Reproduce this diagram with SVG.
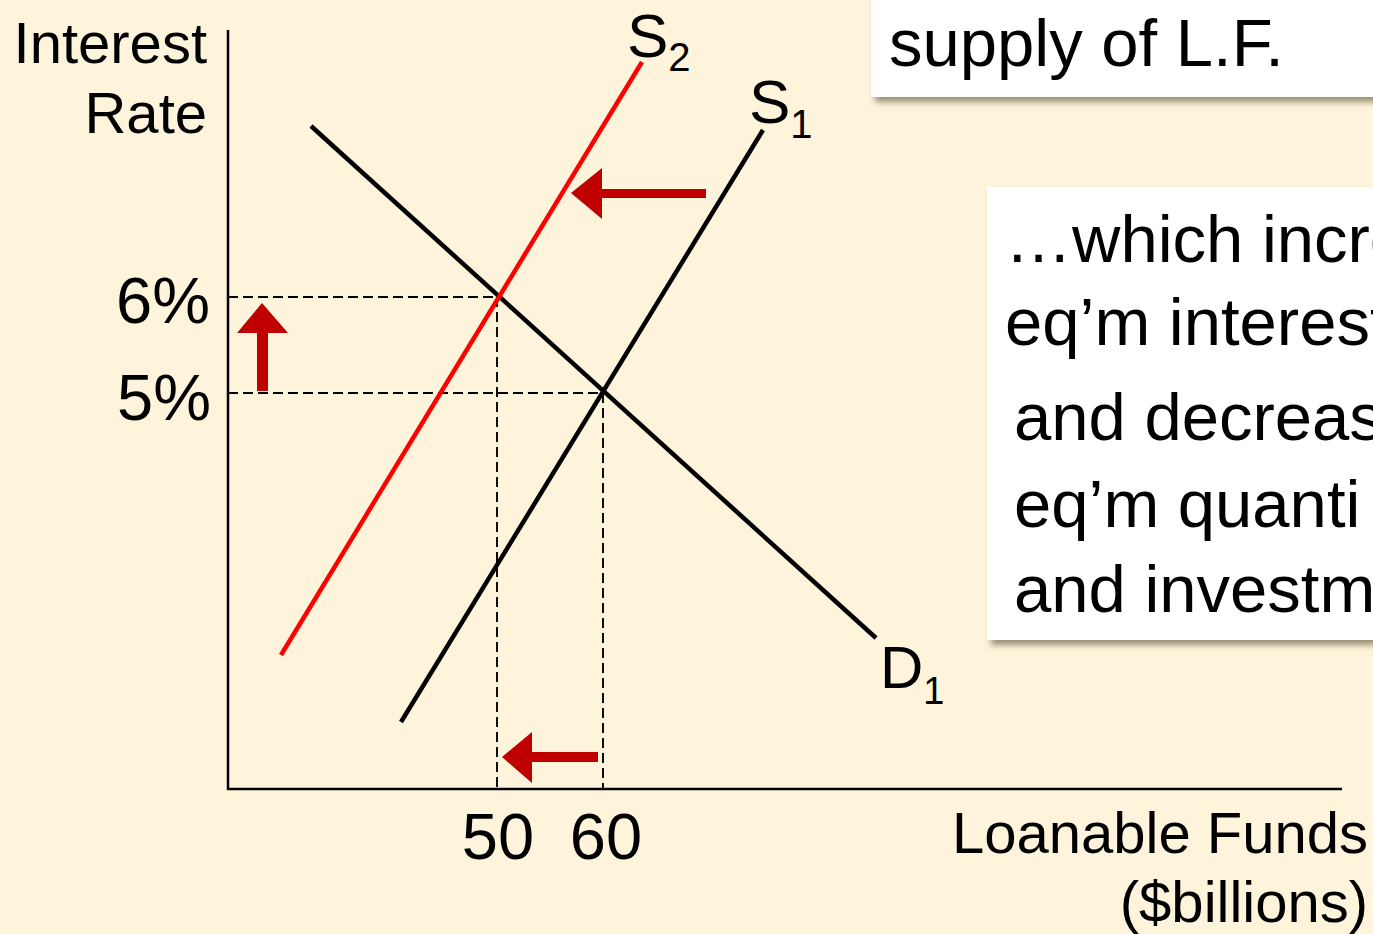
<svg xmlns="http://www.w3.org/2000/svg" width="1373" height="934" viewBox="0 0 1373 934">
  <defs>
    <filter id="shadow" x="-10%" y="-10%" width="130%" height="140%">
      <feDropShadow dx="4" dy="5" stdDeviation="3" flood-color="#4a3c20" flood-opacity="0.55"/>
    </filter>
  </defs>
  <style>
    text { font-family: "Liberation Sans", Arial, sans-serif; fill: #000; }
    .axis { stroke: #000; stroke-width: 2.5; fill: none; }
    .curve { stroke: #000; stroke-width: 4.5; fill: none; }
    .red { stroke: #FF0000; stroke-width: 4.5; fill: none; }
    .dash { stroke: #000; stroke-width: 1.9; stroke-dasharray: 10 5; fill: none; }
    .arrow { fill: #C00000; stroke: none; }
    .box { fill: #FFFFFF; filter: url(#shadow); }
    .lbl { font-size: 58px; }
    .num { font-size: 65px; }
    .boxtxt { font-size: 67px; }
  </style>
  <rect x="0" y="0" width="1373" height="934" fill="#FEF4DB"/>

  <g id="callout-top">
    <rect class="box" x="871" y="-20" width="520" height="117"/>
    <text class="boxtxt" x="889" y="66">supply of L.F.</text>
  </g>
  <g id="callout-right">
    <rect class="box" x="987" y="187" width="400" height="453"/>
    <text class="boxtxt" x="1005" y="262">…which incre</text>
    <text class="boxtxt" x="1005" y="345">eq’m interest</text>
    <text class="boxtxt" x="1014" y="440">and decreas</text>
    <text class="boxtxt" x="1014" y="527">eq’m quanti</text>
    <text class="boxtxt" x="1014" y="612">and investm</text>
  </g>

  <g id="axes">
    <line class="axis" x1="228" y1="30" x2="228" y2="790"/>
    <line class="axis" x1="227" y1="789" x2="1342" y2="789"/>
    <text class="lbl" x="207" y="63" text-anchor="end">Interest</text>
    <text class="lbl" x="207" y="133" text-anchor="end">Rate</text>
    <text class="lbl" x="1368" y="853" text-anchor="end">Loanable Funds</text>
    <text class="lbl" x="1368" y="922" text-anchor="end">($billions)</text>
    <text class="num" x="210" y="323" text-anchor="end">6%</text>
    <text class="num" x="211" y="420" text-anchor="end">5%</text>
    <text class="num" x="498" y="859" text-anchor="middle">50</text>
    <text class="num" x="606" y="859" text-anchor="middle">60</text>
  </g>

  <g id="connectors">
    <line class="dash" x1="228" y1="297" x2="497" y2="297"/>
    <line class="dash" x1="228" y1="393" x2="603" y2="393"/>
    <line class="dash" x1="497" y1="297" x2="497" y2="789"/>
    <line class="dash" x1="603" y1="393" x2="603" y2="789"/>
  </g>

  <g id="D1">
    <line class="curve" x1="311" y1="126" x2="876" y2="638"/>
    <text x="880" y="688" font-size="60">D<tspan font-size="38" dy="16">1</tspan></text>
  </g>
  <g id="S1">
    <line class="curve" x1="401" y1="722" x2="763" y2="130"/>
    <text x="749" y="123" font-size="62">S<tspan font-size="40" dy="15">1</tspan></text>
  </g>
  <g id="S2">
    <line class="red" x1="281" y1="655" x2="642" y2="62"/>
    <text x="627" y="57" font-size="62">S<tspan font-size="40" dy="14">2</tspan></text>
  </g>

  <g id="shift-arrows">
    <polygon class="arrow" points="706,189 602,189 602,168 571,193 602,219 602,198 706,198"/>
    <polygon class="arrow" points="598,752 532,752 532,732 502,757 532,783 532,762 598,762"/>
    <polygon class="arrow" points="257,391 257,333 237,333 262,303 288,333 268,333 268,391"/>
  </g>
</svg>
